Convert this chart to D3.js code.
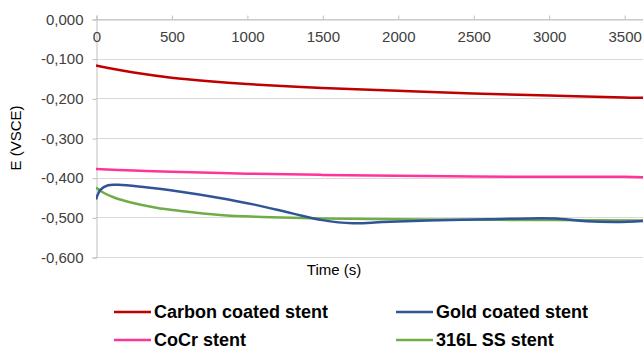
<!DOCTYPE html>
<html>
<head>
<meta charset="utf-8">
<script src="https://d3js.org/d3.v7.min.js"></script>
<style>
    body { margin: 0; background: #fff; }
    text { font-family: "Liberation Sans", Arial, sans-serif; }
    .tick text { font-size: 15px; fill: #404040; }
    .legend text { font-size: 18px; font-weight: bold; fill: #000; }
</style>
</head>
<body>
<script>
// time points (s)
var timeCarbon = [0, 100, 250, 500, 750, 1000, 1500, 2000, 2500, 3000, 3500, 3650];
var carbon = [-0.117, -0.125, -0.135, -0.148, -0.157, -0.164, -0.174, -0.181, -0.188, -0.193, -0.198, -0.199];

var timeCocr = [0, 250, 500, 1000, 1500, 2000, 2500, 3000, 3500, 3650];
var cocr = [-0.378, -0.382, -0.385, -0.390, -0.393, -0.395, -0.397, -0.398, -0.398, -0.399];

var timeGold = [0, 30, 80, 150, 300, 550, 800, 1050, 1300, 1500, 1700, 1900, 2200, 2600, 2950, 3050, 3250, 3450, 3650];
var gold = [-0.455, -0.430, -0.419, -0.418, -0.423, -0.435, -0.450, -0.468, -0.490, -0.507, -0.515, -0.512, -0.508, -0.505, -0.502, -0.503, -0.510, -0.512, -0.509];

var timeSteel = [0, 50, 120, 225, 400, 560, 820, 1100, 1500, 2000, 2500, 3000, 3650];
var steel = [-0.425, -0.438, -0.450, -0.462, -0.476, -0.484, -0.494, -0.499, -0.503, -0.505, -0.506, -0.507, -0.508];

var seriesNames = ["Carbon coated stent", "Gold coated stent", "CoCr stent", "316L SS stent"];
var seriesColors = ["#c00000", "#2f5597", "#ff3399", "#70ad47"];
var xTicks = [0, 500, 1000, 1500, 2000, 2500, 3000, 3500];
var yTicks = [0, -0.1, -0.2, -0.3, -0.4, -0.5, -0.6];

var W = 643, H = 349;
var plotLeft = 96, plotRight = 643, plotTop = 19, plotBottom = 257;

var svg = d3.select("body").append("svg")
    .attr("width", W).attr("height", H);

var x = d3.scaleLinear().domain([0, 3625]).range([plotLeft, plotRight]);
var y = d3.scaleLinear().domain([-0.6, 0]).range([plotBottom, plotTop]);

// gridlines
svg.append("g").selectAll("line").data(yTicks).enter().append("line")
    .attr("x1", plotLeft).attr("x2", plotRight)
    .attr("y1", function(d) { return Math.round(y(d)) + 0.5; })
    .attr("y2", function(d) { return Math.round(y(d)) + 0.5; })
    .attr("stroke", "#d9d9d9").attr("stroke-width", 1);

// y axis
var yAxis = svg.append("g").attr("transform", "translate(" + (plotLeft + 0.5) + ",0.5)")
    .call(d3.axisLeft(y).tickValues(yTicks).tickSize(4).tickPadding(9)
        .tickFormat(function(d) { return d3.format(".3f")(d).replace("−", "-").replace(".", ","); }));
yAxis.select(".domain").attr("stroke", "#bfbfbf");
yAxis.selectAll(".tick line").attr("stroke", "#bfbfbf");

// x axis at top, labels below the line
var xAxis = svg.append("g").attr("transform", "translate(0.5," + (plotTop + 0.5) + ")")
    .call(d3.axisTop(x).tickValues(xTicks).tickSize(4).tickFormat(d3.format("d")));
xAxis.select(".domain").attr("stroke", "#bfbfbf");
xAxis.selectAll(".tick line").attr("stroke", "#bfbfbf");
xAxis.selectAll(".tick text").attr("y", 22).attr("dy", "0");

// clip
svg.append("clipPath").attr("id", "clip").append("rect")
    .attr("x", plotLeft).attr("y", 0).attr("width", plotRight - plotLeft).attr("height", H);

var line = d3.line().curve(d3.curveCatmullRom.alpha(0.5))
    .x(function(d) { return x(d[0]); })
    .y(function(d) { return y(d[1]); });

var seriesData = [
    d3.zip(timeCarbon, carbon),
    d3.zip(timeGold, gold),
    d3.zip(timeCocr, cocr),
    d3.zip(timeSteel, steel)
];
var drawOrder = [2, 3, 1, 0];
var plot = svg.append("g").attr("clip-path", "url(#clip)");
drawOrder.forEach(function(i) {
    plot.append("path").datum(seriesData[i])
        .attr("fill", "none")
        .attr("stroke", seriesColors[i])
        .attr("stroke-width", 2.5)
        .attr("d", line);
});

// axis titles
svg.append("text")
    .attr("transform", "translate(21,138) rotate(-90)")
    .attr("text-anchor", "middle")
    .style("font-size", "15px").attr("fill", "#000")
    .text("E (VSCE)");
svg.append("text")
    .attr("x", 334).attr("y", 275)
    .attr("text-anchor", "middle")
    .style("font-size", "15px").attr("fill", "#000")
    .text("Time (s)");

// legend
var legend = svg.append("g").attr("class", "legend");
var legendPos = [[114, 312], [396, 312], [114, 340], [396, 340]];
seriesNames.forEach(function(name, i) {
    var p = legendPos[i];
    legend.append("line")
        .attr("x1", p[0]).attr("x2", p[0] + 37)
        .attr("y1", p[1]).attr("y2", p[1])
        .attr("stroke", seriesColors[i]).attr("stroke-width", 2.5);
    legend.append("text")
        .attr("x", p[0] + 40).attr("y", p[1] + 6)
        .text(name);
});
</script>
</body>
</html>
